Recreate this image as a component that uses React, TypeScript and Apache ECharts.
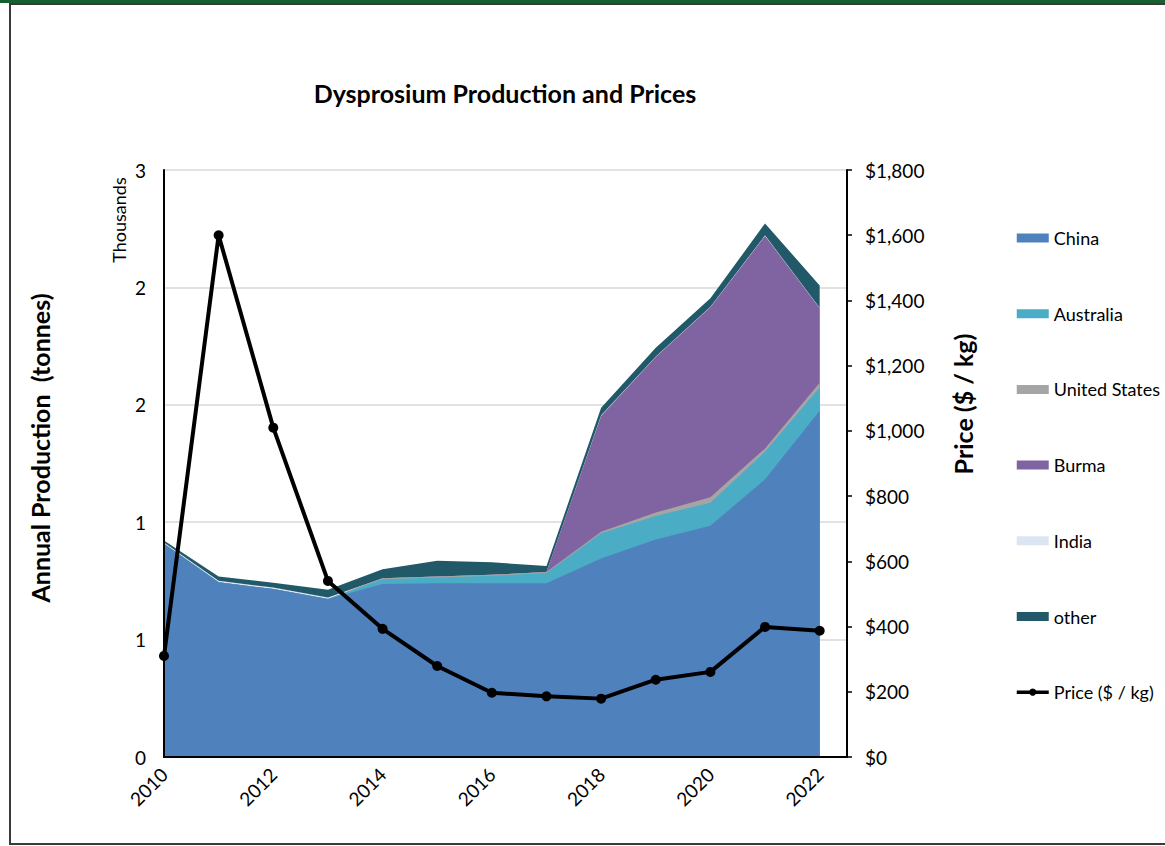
import React, { useEffect, useRef } from "react";
import * as echarts from "echarts";

const years = [2010, 2011, 2012, 2013, 2014, 2015, 2016, 2017, 2018, 2019, 2020, 2021, 2022];
const china = [1090, 893, 858, 807, 884, 888, 888, 888, 1015, 1112, 1182, 1419, 1770];
const australia = [0, 0, 0, 0, 24, 30, 38, 52, 128, 120, 118, 141, 119];
const unitedStates = [0, 0, 0, 0, 5, 5, 5, 5, 8, 17, 27, 17, 24];
const burma = [0, 0, 0, 0, 0, 0, 0, 0, 592, 795, 971, 1086, 380];
const india = [6, 8, 8, 8, 0, 0, 0, 0, 3, 3, 3, 3, 3];
const other = [10, 22, 24, 40, 46, 80, 64, 31, 39, 45, 43, 61, 114];
const price = [310, 1600, 1010, 540, 393, 279, 197, 186, 179, 237, 261, 399, 387];

const areaNames = ["China", "Australia", "United States", "Burma", "India", "other"];
const areaValues = [china, australia, unitedStates, burma, india, other];
const areaColors = ["#4f81bd", "#4bacc6", "#a5a5a5", "#8064a2", "#dce6f2", "#215968"];

const FONT = "Lato";

export default function App() {
  const ref = useRef<HTMLDivElement>(null);
  useEffect(() => {
    if (!ref.current) return;
    const chart = echarts.init(ref.current, null, { renderer: "svg" });
    // stacked totals (each layer drawn from 0 up to its cumulative total, lower layers painted over)
    const cumulative: number[][] = [];
    areaValues.forEach((vals, i) => {
      cumulative.push(vals.map((v, j) => v + (i > 0 ? cumulative[i - 1][j] : 0)));
    });
    const areaSeries = areaNames
      .map((name, i) => ({
        name,
        type: "line",
        data: years.map((y, j) => [y, cumulative[i][j]]),
        showSymbol: false,
        symbol: "none",
        lineStyle: { width: 0 },
        itemStyle: { color: areaColors[i] },
        areaStyle: { color: areaColors[i], opacity: 1 },
        z: 2,
      }))
      .reverse();
    const axisText = { fontSize: 19, color: "#000", fontFamily: FONT };
    chart.setOption({
      animation: false,
      backgroundColor: "#ffffff",
      textStyle: { fontFamily: FONT },
      grid: {
        left: 164,
        right: 318,
        top: 170,
        bottom: 89,
        show: false,
        containLabel: false,
      },
      legend: {
        orient: "vertical",
        left: 1015,
        top: 228,
        padding: 0,
        itemWidth: 32,
        itemHeight: 9,
        itemGap: 55.7,
        textStyle: { fontFamily: FONT, fontSize: 18, color: "#000", lineHeight: 20 },
        data: [
          ...areaNames.map((n) => ({ name: n, icon: "rect" })),
          { name: "Price ($ / kg)", lineStyle: { width: 3.5, color: "#000" }, itemStyle: { color: "#000" } },
        ],
      },
      xAxis: [
        {
          type: "value",
          min: 2010,
          max: 2022.5,
          interval: 2,
          axisLine: { show: true, lineStyle: { color: "#000", width: 2 } },
          axisTick: { show: false },
          splitLine: { show: false },
          axisLabel: {
            ...axisText,
            rotate: 45,
            margin: 14,
            showMaxLabel: false,
            formatter: (v: number) => (v % 2 === 0 ? String(v) : ""),
          },
          z: 10,
        },
        {
          type: "value",
          position: "top",
          min: 2010,
          max: 2022.5,
          interval: 2,
          axisLine: { show: true, lineStyle: { color: "#000", width: 2 } },
          axisTick: { show: false },
          splitLine: { show: false },
          axisLabel: { show: false },
          z: 10,
        },
      ],
      yAxis: [
        {
          type: "value",
          min: 0,
          max: 3000,
          interval: 600,
          axisLine: { show: true, lineStyle: { color: "#000", width: 2 } },
          axisTick: { show: false },
          splitLine: { show: false },
          axisLabel: {
            ...axisText,
            margin: 18,
            formatter: (v: number) => String(Math.round(v / 1000)),
          },
          z: 10,
        },
        {
          type: "value",
          min: 0,
          max: 1800,
          interval: 200,
          position: "right",
          axisLine: { show: true, lineStyle: { color: "#000", width: 2 } },
          axisTick: { show: true, length: 5, lineStyle: { color: "#000", width: 1.5 } },
          splitLine: { show: false },
          axisLabel: {
            ...axisText,
            margin: 18,
            formatter: (v: number) => "$" + v.toLocaleString("en-US"),
          },
          z: 10,
        },
        {
          type: "value",
          min: 0,
          max: 3000,
          interval: 600,
          position: "left",
          axisLine: { show: false },
          axisTick: { show: false },
          axisLabel: { show: false },
          splitLine: { show: true, lineStyle: { color: "#d9d9d9", width: 1.5 } },
          z: 0,
        },
      ],
      series: [
        ...areaSeries,
        {
          name: "Price ($ / kg)",
          type: "line",
          yAxisIndex: 1,
          data: years.map((y, j) => [y, price[j]]),
          symbol: "circle",
          symbolSize: 10,
          lineStyle: { color: "#000", width: 4 },
          itemStyle: { color: "#000" },
          z: 5,
        },
      ],
      graphic: [
        { type: "rect", shape: { x: 0, y: 0, width: 1165, height: 3 }, style: { fill: "#17602f" }, silent: true },
        { type: "rect", shape: { x: 9, y: 3, width: 1156, height: 2 }, style: { fill: "#3a3a3a" }, silent: true },
        { type: "rect", shape: { x: 9, y: 3, width: 2, height: 842 }, style: { fill: "#3a3a3a" }, silent: true },
        { type: "rect", shape: { x: 9, y: 843, width: 1156, height: 2 }, style: { fill: "#3a3a3a" }, silent: true },
        {
          type: "text",
          x: 505,
          y: 93,
          style: {
            text: "Dysprosium Production and Prices",
            font: `bold 25px ${FONT}`,
            fill: "#000",
            textAlign: "center",
            textVerticalAlign: "middle",
          },
        },
        {
          type: "text",
          x: 40,
          y: 448,
          rotation: Math.PI / 2,
          style: {
            text: "Annual Production  (tonnes)",
            font: `bold 25px ${FONT}`,
            fill: "#000",
            textAlign: "center",
            textVerticalAlign: "middle",
          },
        },
        {
          type: "text",
          x: 119,
          y: 220,
          rotation: Math.PI / 2,
          style: {
            text: "Thousands",
            font: `18px ${FONT}`,
            fill: "#000",
            textAlign: "center",
            textVerticalAlign: "middle",
          },
        },
        {
          type: "text",
          x: 963,
          y: 404,
          rotation: Math.PI / 2,
          style: {
            text: "Price ($ / kg)",
            font: `bold 25px ${FONT}`,
            fill: "#000",
            textAlign: "center",
            textVerticalAlign: "middle",
          },
        },
      ],
    });
    return () => chart.dispose();
  }, []);
  return (
    <div
      ref={ref}
      style={{ position: "fixed", left: 0, top: 0, width: 1165, height: 846, background: "#fff" }}
    />
  );
}
